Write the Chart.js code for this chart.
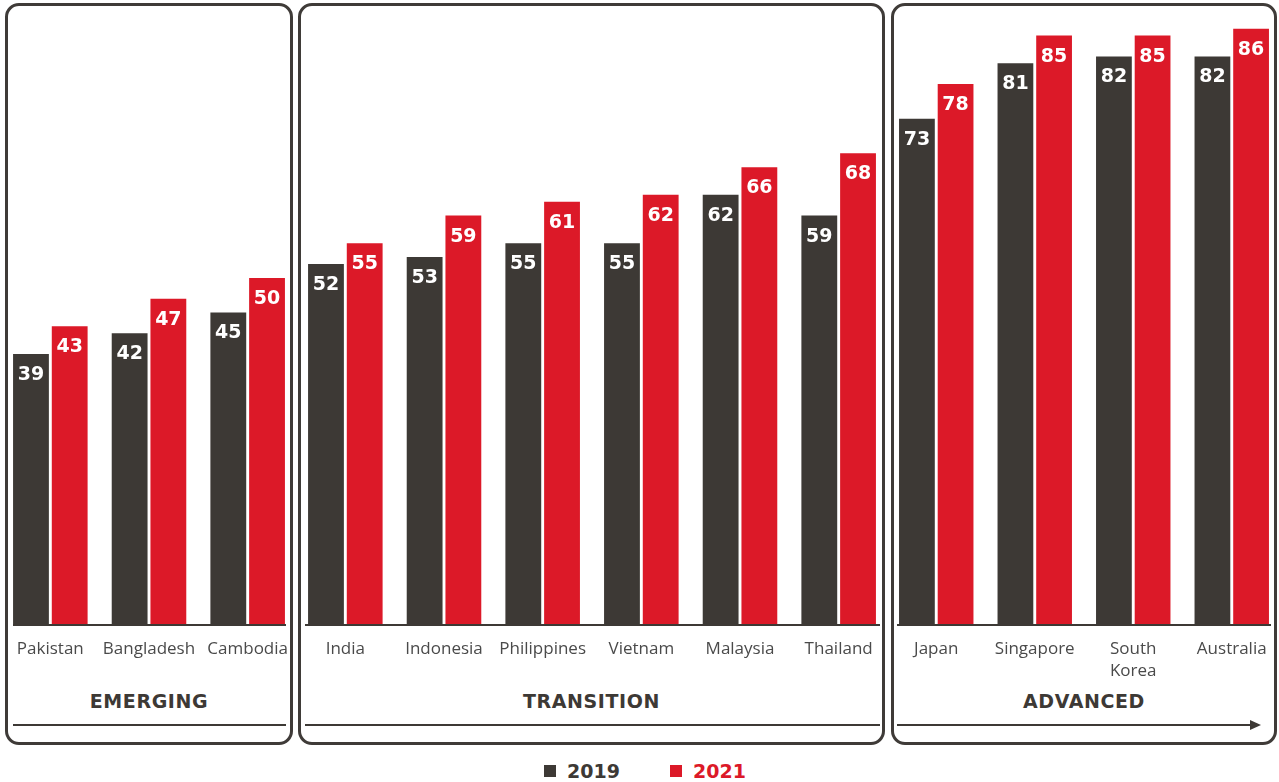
<!DOCTYPE html>
<html>
<head>
<meta charset="utf-8">
<script src="https://cdn.jsdelivr.net/npm/chart.js@4.4.0/dist/chart.umd.min.js"></script>
<style>
    body { margin: 0; background: #fff; width: 1279px; height: 782px; position: relative; overflow: hidden; }
    .panel { position: absolute; top: 3px; height: 736px; border: 3px solid #3f3b38; border-radius: 14px; }
    .wrap { position: absolute; top: 0; height: 684px; }
    .titulo { position: absolute; top: 690px; font: bold 19px "DejaVu Sans", sans-serif; color: #3d3935; text-align: center; letter-spacing: 0.6px; }
    .flecha { position: absolute; top: 724px; height: 2px; background: #3d3935; }
    .punta { position: absolute; top: 720px; width: 0; height: 0; border-top: 5px solid transparent; border-bottom: 5px solid transparent; border-left: 11px solid #3d3935; }
    .leyenda { position: absolute; top: 760px; font: bold 19px "DejaVu Sans", sans-serif; }
    .leyenda span.cuadro { display: inline-block; width: 12px; height: 12px; margin-right: 11px; vertical-align: 1px; }
</style>
</head>
<body>
<div class="panel" style="left:5px; width:282px;"></div>
<div class="panel" style="left:298px; width:581px;"></div>
<div class="panel" style="left:891px; width:380px;"></div>

<div class="wrap" style="left:1px; width:296px;"><canvas id="grafEmerging"></canvas></div>
<div class="wrap" style="left:296px; width:592px;"><canvas id="grafTransition"></canvas></div>
<div class="wrap" style="left:887px; width:394px;"><canvas id="grafAdvanced"></canvas></div>

<div class="titulo" style="left:5px; width:288px;">EMERGING</div>
<div class="titulo" style="left:298px; width:587px;">TRANSITION</div>
<div class="titulo" style="left:891px; width:386px;">ADVANCED</div>

<div class="flecha" style="left:13px; width:273px;"></div>
<div class="flecha" style="left:305px; width:575px;"></div>
<div class="flecha" style="left:897px; width:356px;"></div>
<div class="punta" style="left:1250px;"></div>

<div class="leyenda" style="left:544px; color:#3d3935;"><span class="cuadro" style="background:#3d3935"></span>2019</div>
<div class="leyenda" style="left:670px; color:#dc1928;"><span class="cuadro" style="background:#dc1928"></span>2021</div>

<script>
// Datos
const paisesEmerging = ['Pakistan', 'Bangladesh', 'Cambodia'];
const emerging2019 = [39, 42, 45];
const emerging2021 = [43, 47, 50];

const paisesTransition = ['India', 'Indonesia', 'Philippines', 'Vietnam', 'Malaysia', 'Thailand'];
const transition2019 = [52, 53, 55, 55, 62, 59];
const transition2021 = [55, 59, 61, 62, 66, 68];

const paisesAdvanced = ['Japan', 'Singapore', ['South', 'Korea'], 'Australia'];
const advanced2019 = [73, 81, 82, 82];
const advanced2021 = [78, 85, 85, 86];

const colorOscuro = '#3d3935';
const colorRojo = '#dc1928';

// Etiquetas blancas dentro de cada barra
const etiquetasBarras = {
    id: 'etiquetasBarras',
    afterDatasetsDraw(chart) {
        const ctx = chart.ctx;
        ctx.save();
        ctx.fillStyle = '#fff';
        ctx.font = 'bold 19px "DejaVu Sans", sans-serif';
        ctx.textAlign = 'center';
        ctx.textBaseline = 'middle';
        chart.data.datasets.forEach((ds, i) => {
            chart.getDatasetMeta(i).data.forEach((bar, j) => {
                ctx.fillText(ds.data[j], bar.x, bar.y + 21);
            });
        });
        ctx.restore();
    }
};

// Línea base del eje
const lineaBase = {
    id: 'lineaBase',
    afterDatasetsDraw(chart, args, opts) {
        const ctx = chart.ctx;
        const y = chart.chartArea.bottom + 1;
        ctx.save();
        ctx.strokeStyle = colorOscuro;
        ctx.lineWidth = 2;
        ctx.beginPath();
        ctx.moveTo(opts.desde, y);
        ctx.lineTo(opts.hasta, y);
        ctx.stroke();
        ctx.restore();
    }
};

function crearGrafico(id, etiquetas, datos2019, datos2021, desde, hasta) {
    return new Chart(document.getElementById(id), {
        type: 'bar',
        data: {
            labels: etiquetas,
            datasets: [
                { label: '2019', data: datos2019, backgroundColor: colorOscuro, categoryPercentage: 0.785, barPercentage: 0.925 },
                { label: '2021', data: datos2021, backgroundColor: colorRojo, categoryPercentage: 0.785, barPercentage: 0.925 }
            ]
        },
        options: {
            responsive: true,
            maintainAspectRatio: false,
            animation: false,
            layout: { padding: { top: 1, left: 0, right: 0, bottom: 0 } },
            plugins: {
                legend: { display: false },
                tooltip: { enabled: false },
                lineaBase: { desde: desde, hasta: hasta }
            },
            scales: {
                x: {
                    grid: { display: false, drawTicks: false },
                    border: { display: false },
                    ticks: {
                        color: '#4a4a4a',
                        font: { family: '"Open Sans", sans-serif', size: 17, lineHeight: 1.3 },
                        padding: 14,
                        maxRotation: 0,
                        autoSkip: false
                    },
                    afterFit(scale) {
                        scale.height = 60;
                        scale.paddingLeft = 0;
                        scale.paddingRight = 0;
                    }
                },
                y: {
                    display: false,
                    min: 0,
                    max: 90
                }
            }
        },
        plugins: [etiquetasBarras, lineaBase]
    });
}

crearGrafico('grafEmerging', paisesEmerging, emerging2019, emerging2021, 12, 285);
crearGrafico('grafTransition', paisesTransition, transition2019, transition2021, 9, 584);
crearGrafico('grafAdvanced', paisesAdvanced, advanced2019, advanced2021, 10, 384);
</script>
</body>
</html>
